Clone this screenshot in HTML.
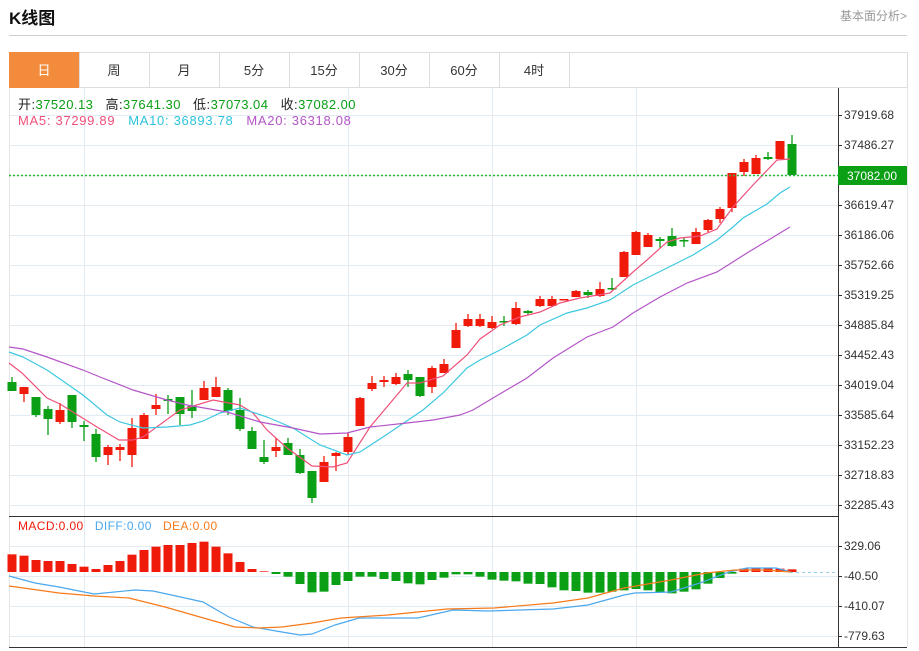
<!DOCTYPE html>
<html><head><meta charset="utf-8"><style>
body{margin:0;width:919px;height:651px;background:#fff;font-family:"Liberation Sans","Noto Sans CJK SC",sans-serif;overflow:hidden;position:relative}
.t{position:absolute;white-space:nowrap}
</style></head><body>
<div class="t" style="left:9px;top:4px;font-size:17px;font-weight:bold;color:#111">K线图</div>
<div class="t" style="left:840px;top:7px;font-size:12px;color:#999">基本面分析&gt;</div>
<div style="position:absolute;left:9px;top:35px;width:898px;height:1px;background:#d0d0d0"></div>
<svg id="s" width="919" height="651" style="position:absolute;left:0;top:0" xmlns="http://www.w3.org/2000/svg"></svg>
<script>
var s=document.getElementById('s'),h='';
function L(x1,y1,x2,y2,c,w,d){h+='<line x1="'+x1+'" y1="'+y1+'" x2="'+x2+'" y2="'+y2+'" stroke="'+c+'" stroke-width="'+(w||1)+'"'+(d?' stroke-dasharray="'+d+'"':'')+'/>';}
function R(x,y,w,hh,c){h+='<rect x="'+x+'" y="'+y+'" width="'+w+'" height="'+hh+'" fill="'+c+'"/>';}
function T(x,y,t,c,sz,a){h+='<text x="'+x+'" y="'+y+'" fill="'+c+'" font-size="'+(sz||12)+'"'+(a?' text-anchor="'+a+'"':'')+'>'+t+'</text>';}
function P(pts,c){var d='';for(var i=0;i<pts.length;i+=2)d+=(i?'L':'M')+pts[i]+' '+pts[i+1];h+='<path d="'+d+'" fill="none" stroke="'+c+'" stroke-width="1.2"/>';}
R(9.5,52.5,898,35,'#fff');h+='<rect x="9.5" y="52.5" width="898" height="35" fill="none" stroke="#ddd"/>';
R(9,52,70,36,'#f28c3c');
var tabs=['日','周','月','5分','15分','30分','60分','4时'];
for(var i=0;i<8;i++){var x=9+70*i;if(i>0)L(x+.5,52,x+.5,88,'#ddd');T(x+35,75,tabs[i],i==0?'#fff':'#333',13,'middle');}
L(569.5,52,569.5,88,'#ddd');
for(var y=115;y<=505;y+=30)L(9,y+.5,838,y+.5,'#e3ebf2');
[546,576,606,636].forEach(function(y){L(9,y+.5,838,y+.5,'#e3ebf2');});
[84,348,492,636].forEach(function(x){L(x+.5,88,x+.5,647,'#e3ebf2');});
L(9.5,88,9.5,647,'#e6e6e6');L(907.5,88,907.5,647,'#e6e6e6');
L(838.5,88,838.5,647,'#333');L(9,516.5,838,516.5,'#333');L(9,647.5,907,647.5,'#333');
var lab=['37919.68','37486.27','','36619.47','36186.06','35752.66','35319.25','34885.84','34452.43','34019.04','33585.64','33152.23','32718.83','32285.43'];
for(var i=0;i<14;i++){var y=115+30*i;L(838,y+.5,842,y+.5,'#333');if(lab[i])T(844,y+4,lab[i],'#333',12);}
[['329.06',546],['-40.50',576],['-410.07',606],['-779.63',636]].forEach(function(a){L(838,a[1]+.5,842,a[1]+.5,'#333');T(844,a[1]+4,a[0],'#333',12);});
var C=[[382,391,377,391,0],[387,394,387,402,1],[397,415,397,417,0],[409,419,406,435,0],[410,422,403,424,1],[395,422,395,428,0],[425,427,421,441,0],[434,457,429,462,0],[447,455,445,465,1],[447,450,444,461,1],[428,455,418,467,1],[415,439,413,439,1],[405,409,394,415,1],[399,401,395,414,0],[397,414,397,425,0],[406,411,390,418,0],[388,400,381,400,1],[387,397,377,397,1],[390,411,388,415,0],[410,429,398,431,0],[431,449,427,449,0],[457,462,440,464,0],[447,451,438,457,1],[443,455,438,455,0],[455,473,449,474,0],[471,498,471,503,0],[462,482,456,482,1],[453,456,452,471,1],[437,452,433,455,1],[398,426,397,426,1],[383,389,376,391,1],[380,382,376,387,1],[377,384,373,385,1],[374,380,370,387,0],[377,396,377,397,0],[368,387,366,393,1],[364,373,359,373,1],[330,348,323,348,1],[319,326,314,327,1],[319,326,314,327,1],[322,328,316,329,1],[321,322,316,326,0],[308,324,302,325,1],[311,313,310,315,0],[299,306,296,307,1],[299,306,296,307,1],[299,300,299,300,1],[291,297,290,297,1],[292,295,290,298,0],[289,296,282,297,1],[288,289,278,290,0],[252,277,251,277,1],[232,255,231,255,1],[235,247,233,247,1],[239,241,237,248,0],[236,246,228,247,0],[240,241,237,247,0],[232,244,228,244,1],[220,230,219,232,1],[209,219,207,223,1],[173,208,173,212,1],[162,172,159,176,1],[158,174,155,174,1],[157,159,152,160,0],[141,159,141,159,1],[144,175,135,175,0]];
for(var i=0;i<C.length;i++){var c=C[i],x=12+12*i,col=c[4]?'#f01a0a':'#0a9f14';L(x,c[2],x,c[3],col,1.3);R(x-4.5,c[0],9,Math.max(1.5,c[1]-c[0]),col);}
P([9,363,22,373,47,398,60,404,97,427,119,440,133,440,143,437,180,410,213,400,240,405,253,413,267,430,287,448,312,466,333,467,347,463,370,427,397,395,407,383,420,383,443,376,467,355,480,339,500,325,520,317,540,312,560,303,580,298,610,293,633,272,647,260,667,242,680,238,700,236,717,229,733,207,753,185,777,160,790,159],'#f0507a');
P([9,352,23,357,47,370,83,395,107,415,120,422,143,428,167,427,190,425,203,421,220,413,240,408,267,417,293,428,320,445,347,455,360,452,383,437,423,410,443,393,467,368,480,360,500,350,527,335,540,325,567,313,587,308,610,300,633,285,647,278,673,265,693,255,717,240,733,227,743,218,767,204,780,193,790,187],'#3cc8e0');
P([9,347,23,349,47,357,83,370,100,377,133,390,167,400,187,405,227,412,260,422,293,428,320,434,347,433,370,427,407,423,433,420,460,415,473,410,493,398,527,378,553,358,587,337,613,327,633,313,660,297,687,283,717,272,747,253,780,233,790,227],'#b455c8');
L(9,175.5,838,175.5,'#2db83d',1.5,'2,2');
R(838,166,69,19,'#0a9f14');T(872,180,'37082.00','#fff',12,'middle');
var M=[133,137,150,153,153,162,170,177,165,153,134,120,110,105,105,99,95,110,130,156,177,184,192,200,222,247,245,225,213,200,200,207,213,220,223,210,203,193,193,200,209,212,214,221,222,232,241,243,248,248,245,241,237,241,247,250,245,238,221,204,191,176,175,175,176,178];
for(var i=0;i<M.length;i++){var x=12+12*i,y=510+M[i]/3,b=572;if(y<b)R(x-4.5,y,9,b-y,'#f01a0a');else R(x-4.5,b,9,Math.max(1,y-b),'#0a9f14');}
L(790,572.5,838,572.5,'#8fd0f0',1,'3,3');
P([9,576,35,583,59,587,94,594,135,590,153,591,176,596,203,602,229,617,253,627,276,631,300,635,312,634,335,625,359,618,418,618,453,610,488,611,553,609,588,605,624,595,635,593,671,592,700,583,729,572,747,568,776,568,791,572],'#4aa8ee');
P([9,586,59,593,94,596,129,598,165,607,200,617,235,627,259,628,282,627,312,623,341,618,388,615,447,609,494,608,553,603,588,598,624,588,671,580,706,573,735,570,765,570,791,572],'#f77a1a');
s.innerHTML=h;
</script>
<div class="t" style="left:18px;top:94px;font-size:13px;color:#222;letter-spacing:0.45px">开:<span style="color:#0a9f14">37520.13</span>&nbsp;&nbsp; 高:<span style="color:#0a9f14">37641.30</span>&nbsp;&nbsp; 低:<span style="color:#0a9f14">37073.04</span>&nbsp;&nbsp; 收:<span style="color:#0a9f14">37082.00</span></div>
<div class="t" style="left:18px;top:113px;font-size:13px;letter-spacing:0.7px"><span style="color:#f0507a">MA5: 37299.89</span>&nbsp;&nbsp; <span style="color:#2bc4dc">MA10: 36893.78</span>&nbsp;&nbsp; <span style="color:#b455c8">MA20: 36318.08</span></div>
<div class="t" style="left:18px;top:519px;font-size:12px;letter-spacing:0.4px"><span style="color:#f01a0a">MACD:0.00</span>&nbsp;&nbsp; <span style="color:#4aa8ee">DIFF:0.00</span>&nbsp;&nbsp; <span style="color:#f77a1a">DEA:0.00</span></div>
</body></html>
